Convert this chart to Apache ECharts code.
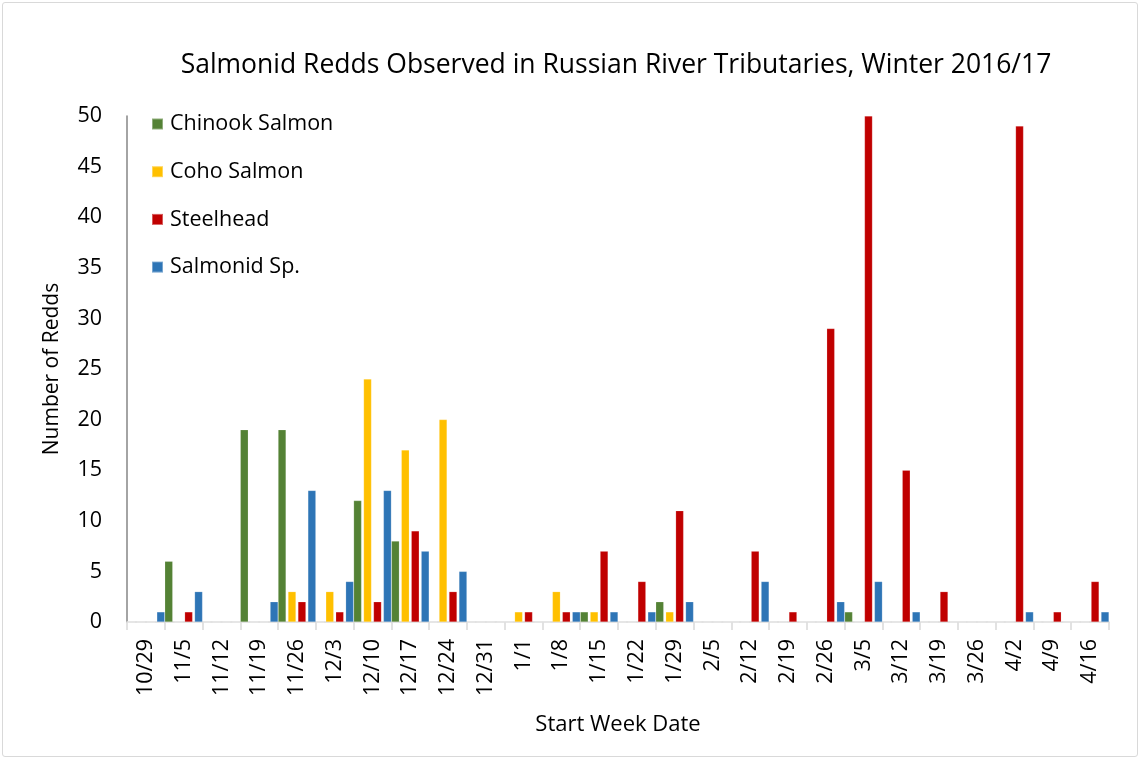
<!DOCTYPE html>
<html>
<head>
<meta charset="utf-8">
<script src="https://cdn.jsdelivr.net/npm/echarts@6/dist/echarts.min.js"></script>
<style>
html,body{margin:0;padding:0;background:#fff;}
#frame{position:absolute;left:2px;top:2px;width:1134px;height:753px;border:1px solid #d9d9d9;border-radius:3px;}
#chart{position:absolute;left:0;top:0;width:1140px;height:759px;}
</style>
</head>
<body>
<div id="frame"></div>
<div id="chart"></div>
<script>
const categories = ['10/29','11/5','11/12','11/19','11/26','12/3','12/10','12/17','12/24','12/31','1/1','1/8','1/15','1/22','1/29','2/5','2/12','2/19','2/26','3/5','3/12','3/19','3/26','4/2','4/9','4/16'];
const chinook  = [0,6,0,19,19,0,12,8,0,0,0,0,1,0,2,0,0,0,0,1,0,0,0,0,0,0];
const coho     = [0,0,0,0,3,3,24,17,20,0,1,3,1,0,1,0,0,0,0,0,0,0,0,0,0,0];
const steelhead= [0,1,0,0,2,1,2,9,3,0,1,1,7,4,11,0,7,1,29,50,15,3,0,49,1,4];
const salmonid = [1,3,0,2,13,4,13,7,5,0,0,1,1,1,2,0,4,0,2,4,1,0,0,1,0,1];
const seriesNames = ['Chinook Salmon','Coho Salmon','Steelhead','Salmonid Sp.'];
const seriesColors = ['#548235','#FFC000','#C00000','#2E75B6'];
const seriesData = [chinook, coho, steelhead, salmonid];

const FONT = 'Open Sans';
const chart = echarts.init(document.getElementById('chart'));
chart.setOption({
  animation: false,
  textStyle: {fontFamily: FONT},
  title: {
    text: 'Salmonid Redds Observed in Russian River Tributaries, Winter 2016/17',
    left: 611, top: 44, textAlign: 'center',
    textStyle: {fontFamily: FONT, fontSize: 26.5, fontWeight: 'normal', color: '#000', lineHeight: 32}
  },
  legend: {
    orient: 'vertical', left: 146, top: 108,
    itemWidth: 11, itemHeight: 11, itemGap: 25.7,
    icon: 'rect',
    textStyle: {fontFamily: FONT, fontSize: 21.5, lineHeight: 22, color: '#000', padding: [0,0,0,2]},
    data: seriesNames
  },
  grid: {left: 127, right: 31, top: 116, bottom: 137, containLabel: false},
  xAxis: {
    type: 'category', data: categories, boundaryGap: true,
    name: 'Start Week Date', nameLocation: 'middle', nameGap: 92,
    nameTextStyle: {fontFamily: FONT, fontSize: 22, color: '#000'},
    axisLine: {lineStyle: {color: '#d9d9d9', width: 1.5}},
    axisTick: {show: true, alignWithLabel: false, length: 8, lineStyle: {color: '#d9d9d9', width: 1.5}},
    axisLabel: {rotate: 90, margin: 17, fontFamily: FONT, fontSize: 21.5, color: '#000', interval: 0}
  },
  yAxis: {
    type: 'value', min: 0, max: 50, interval: 5,
    name: 'Number of Redds', nameLocation: 'middle', nameGap: 64, nameRotate: 90,
    nameTextStyle: {fontFamily: FONT, fontSize: 21, color: '#000'},
    axisLine: {show: true, lineStyle: {color: '#868686', width: 1.5}},
    axisTick: {show: false},
    splitLine: {show: false},
    axisLabel: {margin: 25, fontFamily: FONT, fontSize: 21.5, color: '#000'}
  },
  series: seriesNames.map((n, i) => ({
    name: n, type: 'bar', data: seriesData[i],
    barGap: '25%', barCategoryGap: '0%',
    itemStyle: {color: seriesColors[i], borderColor: 'rgba(255,255,255,0.35)', borderWidth: 0.5}
  }))
});
</script>
</body>
</html>
